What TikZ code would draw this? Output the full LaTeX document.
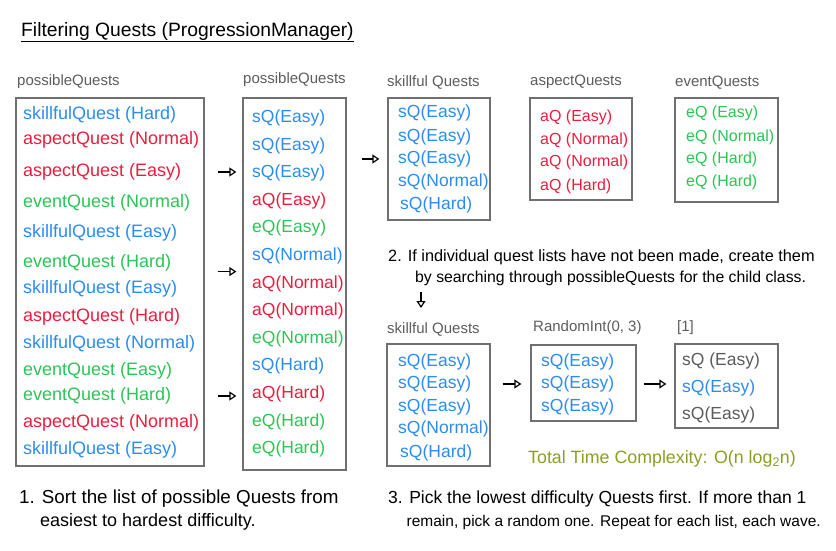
\documentclass[tikz,border=0pt]{standalone}
\usepackage{fontspec}
\setmainfont{Liberation Sans}
\usetikzlibrary{arrows.meta}
\definecolor{qblue}{HTML}{2B8CF0}
\definecolor{qred}{HTML}{EC1C3F}
\definecolor{qgreen}{HTML}{2CC455}
\definecolor{boxgray}{HTML}{707070}
\definecolor{lblgray}{HTML}{5C5C5C}
\definecolor{tcolive}{HTML}{8C9E22}

\begin{document}
\begin{tikzpicture}[x=1pt, y=-1pt,
  box/.style={draw=boxgray, line width=1.3pt, inner sep=0pt},
  big/.style={anchor=west, inner sep=0pt, font=\fontsize{18}{20}\selectfont},
  item/.style={anchor=west, inner sep=0pt, font=\fontsize{17.5}{20}\selectfont},
  tight/.style={anchor=west, inner sep=0pt, font=\fontsize{16}{20}\selectfont},
  lbl/.style={anchor=west, inner sep=0pt, text=lblgray, font=\fontsize{15}{16}\selectfont},
  note/.style={anchor=base west, inner sep=0pt, font=\fontsize{16.3}{20}\selectfont},
  flow/.style={-{Triangle[open, length=7pt, width=9pt]}, line width=1.2pt}]
\useasboundingbox (0,0) rectangle (836,551);

% title
\node[anchor=base west, inner sep=0pt, font=\fontsize{19.3}{22}\selectfont] (t) at (21,37) {Filtering Quests (ProgressionManager)};
\draw[line width=1.2pt] (t.south west) -- (t.south east);

% possibleQuests, unsorted
\node[lbl] (pl) at (17,82) {possibleQuests};
\node[box, minimum width=188pt, minimum height=368pt] (p) at (110,282) {};
\node[big, text=qblue] (pA) at (23,115) {skillfulQuest (Hard)};
\node[big, text=qred] (pB) at (23,140) {aspectQuest (Normal)};
\node[big, text=qred] (pC) at (23,172) {aspectQuest (Easy)};
\node[big, text=qgreen] (pD) at (23,203) {eventQuest (Normal)};
\node[big, text=qblue] (pE) at (23,233) {skillfulQuest (Easy)};
\node[big, text=qgreen] (pF) at (23,263) {eventQuest (Hard)};
\node[big, text=qblue] (pG) at (23,289) {skillfulQuest (Easy)};
\node[big, text=qred] (pH) at (23,317) {aspectQuest (Hard)};
\node[big, text=qblue] (pI) at (23,344) {skillfulQuest (Normal)};
\node[big, text=qgreen] (pJ) at (23,371) {eventQuest (Easy)};
\node[big, text=qgreen] (pK) at (23,396) {eventQuest (Hard)};
\node[big, text=qred] (pL) at (23,423) {aspectQuest (Normal)};
\node[big, text=qblue] (pM) at (23,450) {skillfulQuest (Easy)};

% possibleQuests, sorted
\node[lbl] (sl) at (243,80) {possibleQuests};
\node[box, minimum width=103pt, minimum height=372pt] (s) at (294.5,284) {};
\node[item, text=qblue] (sA) at (252,118) {sQ(Easy)};
\node[item, text=qblue] (sB) at (252,146) {sQ(Easy)};
\node[item, text=qblue] (sC) at (252,173) {sQ(Easy)};
\node[item, text=qred] (sD) at (252,201) {aQ(Easy)};
\node[item, text=qgreen] (sE) at (252,228) {eQ(Easy)};
\node[item, text=qblue] (sF) at (252,256) {sQ(Normal)};
\node[item, text=qred] (sG) at (252,284) {aQ(Normal)};
\node[item, text=qred] (sH) at (252,311) {aQ(Normal)};
\node[item, text=qgreen] (sI) at (252,339) {eQ(Normal)};
\node[item, text=qblue] (sJ) at (252,366) {sQ(Hard)};
\node[item, text=qred] (sK) at (252,394) {aQ(Hard)};
\node[item, text=qgreen] (sL) at (252,422) {eQ(Hard)};
\node[item, text=qgreen] (sM) at (252,449) {eQ(Hard)};

\draw[flow, shorten <=13pt, shorten >=6pt] (p.east |- pC) -- (s.west |- pC);
\draw[flow, shorten <=13pt, shorten >=6pt] (p.east |- pF.south) -- (s.west |- pF.south);
\draw[flow, shorten <=13pt, shorten >=6pt] (p.east |- pK) -- (s.west |- pK);

% child lists
\node[lbl] (kl) at (387,82) {skillful Quests};
\node[box, minimum width=102pt, minimum height=122pt] (k) at (439,159) {};
\node[item, text=qblue] (kA) at (398,113) {sQ(Easy)};
\node[item, text=qblue] (kB) at (398,137) {sQ(Easy)};
\node[item, text=qblue] (kC) at (398,159) {sQ(Easy)};
\node[item, text=qblue] (kD) at (398,182) {sQ(Normal)};
\node[item, text=qblue] (kE) at (400,205) {sQ(Hard)};

\node[lbl] (al) at (530,82) {aspectQuests};
\node[box, minimum width=102pt, minimum height=102pt] (a) at (581,149) {};
\node[tight, text=qred] (aA) at (540,117) {aQ (Easy)};
\node[tight, text=qred] (aB) at (540,140) {aQ (Normal)};
\node[tight, text=qred] (aC) at (540,162) {aQ (Normal)};
\node[tight, text=qred] (aD) at (540,186) {aQ (Hard)};

\node[lbl] (el) at (675,83) {eventQuests};
\node[box, minimum width=103pt, minimum height=104pt] (e) at (726.5,150) {};
\node[tight, text=qgreen] (eA) at (686,113) {eQ (Easy)};
\node[tight, text=qgreen] (eB) at (686,137) {eQ (Normal)};
\node[tight, text=qgreen] (eC) at (686,159) {eQ (Hard)};
\node[tight, text=qgreen] (eD) at (686,182) {eQ (Hard)};

\draw[flow, shorten <=15pt, shorten >=8pt] (s.east |- kC) -- (k.west |- kC);

% step 2
\node[note] (n2a) at (388,261) {2. If individual quest lists have not been made, create them};
\node[note, font=\fontsize{15.8}{20}\selectfont] (n2b) at (415,282) {by searching through possibleQuests for the child class.};
\coordinate (d1) at (421,292);
\coordinate (d2) at (421,308);
\draw[flow] (d1) -- (d2);

% picking
\node[lbl] (k2l) at (387,329) {skillful Quests};
\node[box, minimum width=103pt, minimum height=122pt] (k2) at (438.5,405) {};
\node[item, text=qblue] (k2A) at (398,362) {sQ(Easy)};
\node[item, text=qblue] (k2B) at (398,384) {sQ(Easy)};
\node[item, text=qblue] (k2C) at (398,407) {sQ(Easy)};
\node[item, text=qblue] (k2D) at (398,429) {sQ(Normal)};
\node[item, text=qblue] (k2E) at (400,453) {sQ(Hard)};

\node[lbl] (rl) at (533,328) {RandomInt(0, 3)};
\node[box, minimum width=105pt, minimum height=76pt] (r) at (583.5,383) {};
\node[item, text=qblue] (rA) at (541,362) {sQ(Easy)};
\node[item, text=qblue] (rB) at (541,384) {sQ(Easy)};
\node[item, text=qblue] (rC) at (541,407) {sQ(Easy)};

\node[lbl] (cl) at (677,328) {[1]};
\node[box, minimum width=103pt, minimum height=84pt] (c) at (726.5,386) {};
\node[item, text=lblgray] (cA) at (682,361) {sQ (Easy)};
\node[item, text=qblue] (cB) at (682,388) {sQ(Easy)};
\node[item, text=lblgray] (cC) at (682,415) {sQ(Easy)};

\draw[flow, shorten <=12pt, shorten >=9pt] (k2.east |- rB) -- (r.west |- rB);
\draw[flow, shorten <=7pt, shorten >=8pt] (r.east |- rB) -- (c.west |- rB);

\node[anchor=west, inner sep=0pt, text=tcolive, font=\fontsize{17.8}{20}\selectfont] (tc) at (528,459) {Total Time Complexity: O(n log\textsubscript{2}n)};

% steps 1 and 3
\node[note, font=\fontsize{18.8}{20}\selectfont] (n1a) at (19,503) {1. Sort the list of possible Quests from};
\node[note, font=\fontsize{18}{20}\selectfont] (n1b) at (40,526) {easiest to hardest difficulty.};
\node[note, font=\fontsize{17.5}{20}\selectfont] (n3a) at (388,503) {3. Pick the lowest difficulty Quests first. If more than 1};
\node[note, anchor=base east, font=\fontsize{15.5}{20}\selectfont] (n3b) at (821,526) {remain, pick a random one. Repeat for each list, each wave.};
\end{tikzpicture}
\end{document}
